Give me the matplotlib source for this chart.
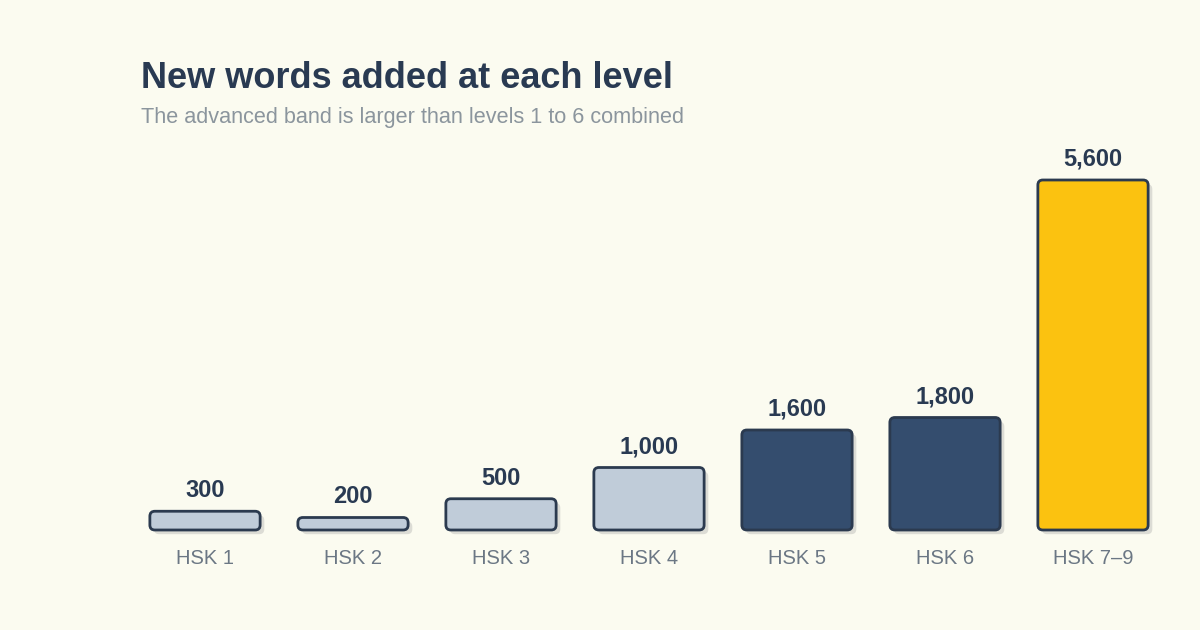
import matplotlib
matplotlib.use("Agg")
import matplotlib.pyplot as plt
import matplotlib.patheffects as pe
from matplotlib.patches import FancyBboxPatch

levels = ["HSK 1", "HSK 2", "HSK 3", "HSK 4", "HSK 5", "HSK 6", "HSK 7–9"]
new_words = [300, 200, 500, 1000, 1600, 1800, 5600]
groups = ["light", "light", "light", "light", "dark", "dark", "gold"]

title = "New words added at each level"
subtitle = "The advanced band is larger than levels 1 to 6 combined"

BG = "#fbfbf0"
INK = "#293a52"
EDGE = "#2b3a4f"
fills = {"light": "#c0ccd9", "dark": "#344d6e", "gold": "#fbc210"}

plt.rcParams["font.family"] = ["Liberation Sans", "DejaVu Sans"]

fig = plt.figure(figsize=(12, 6.3), dpi=100, facecolor=BG)
ax = fig.add_axes([131 / 1200, 100 / 630, 1036 / 1200, 375 / 630])
ax.set_facecolor(BG)
ax.set_xlim(-0.5, len(levels) - 0.5)
ax.set_ylim(0, 6000)

bars = ax.bar(range(len(levels)), new_words, width=0.745)

# data units per pixel, used to keep corners round
fig.canvas.draw()
bb = ax.get_window_extent()
x_per_px = (len(levels)) / bb.width
y_per_px = 6000 / bb.height
radius = 5 * x_per_px

shadow = [pe.SimplePatchShadow(offset=(3, -3), shadow_rgbFace="#dcdcd5", alpha=1.0),
          pe.Normal()]

for rect, g, val in zip(bars, groups, new_words):
    rect.set_visible(False)
    x, y = rect.get_x(), rect.get_y()
    w, h = rect.get_width(), rect.get_height()
    box = FancyBboxPatch((x, y), w, h,
                         boxstyle=f"round,pad=0,rounding_size={radius}",
                         mutation_aspect=y_per_px / x_per_px,
                         facecolor=fills[g], edgecolor=EDGE, linewidth=2,
                         path_effects=shadow, zorder=3, clip_on=False)
    ax.add_patch(box)
    ax.annotate(f"{val:,}", (x + w / 2, h), xytext=(0, 6.5),
                textcoords="offset points", ha="center", va="bottom",
                fontsize=17, fontweight="bold", color=INK)

ax.set_xticks(range(len(levels)), levels)
ax.tick_params(axis="x", length=0, pad=14, labelsize=14.5, labelcolor="#6b7784")
ax.set_yticks([])
for s in ax.spines.values():
    s.set_visible(False)

fig.text(141 / 1200, 1 - 78 / 630, title, fontsize=26, fontweight="bold",
         color=INK, va="center", ha="left")
fig.text(141 / 1200, 1 - 118 / 630, subtitle, fontsize=15.6,
         color="#8b959d", va="center", ha="left")

fig.savefig("out.png", dpi=100, facecolor=BG)
